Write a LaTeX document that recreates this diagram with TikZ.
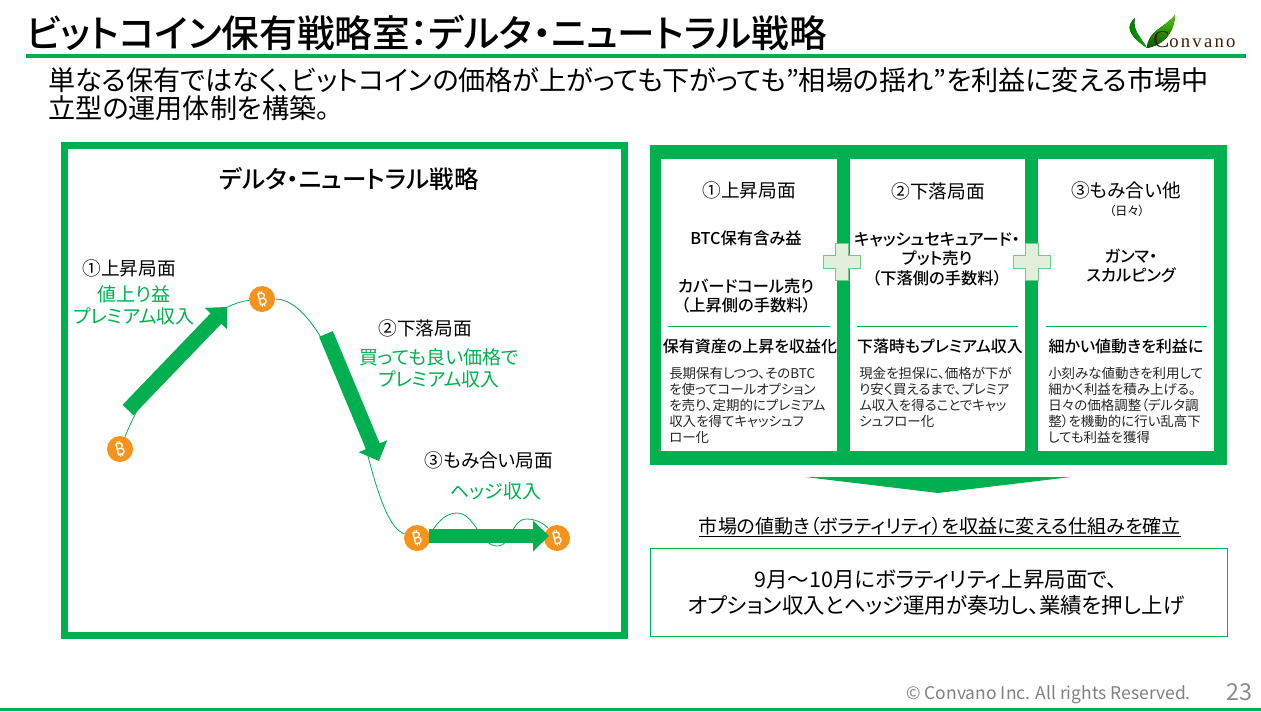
\documentclass[tikz,border=0pt]{standalone}
\usepackage{fontspec}
\setmainfont{Noto Sans CJK JP}[RawFeature={+palt}, BoldFont={Noto Sans CJK JP Medium}]
\newfontfamily\logofont{Liberation Serif}
\newfontfamily\coinfont{Noto Sans}
\usetikzlibrary{arrows.meta, positioning}
\definecolor{cvgreen}{HTML}{00B050}
\definecolor{plusfill}{HTML}{E2EFDA}
\definecolor{plusedge}{HTML}{6CCB8C}
\definecolor{coinorange}{HTML}{F7931A}
\definecolor{bodygray}{HTML}{262626}
\newcommand{\zl}{\char"FF08\relax}
\newcommand{\zr}{\char"FF09\relax}
\newcommand{\zc}{\char"FF1A\relax}
\newcommand{\zw}{\char"FF5E\relax}
\tikzset{
  phase/.style={font=\fontsize{14}{17}\selectfont, align=center},
  gain/.style={font=\fontsize{14.2}{16.5}\selectfont, text=cvgreen, align=center},
  strategy/.style={font=\bfseries\fontsize{12.2}{14.6}\selectfont, align=center},
  headline/.style={font=\bfseries\fontsize{12}{14}\selectfont},
  bodytext/.style={font=\fontsize{10.1}{12}\selectfont, text=bodygray, align=left, anchor=north west, inner sep=0pt},
  coin/.style={circle, fill=coinorange, minimum size=19.5pt, inner sep=0pt, text=white, font=\coinfont\bfseries\fontsize{13}{13}\selectfont},
  blockarrow/.style={cvgreen, line width=11.2pt, -{Triangle[length=12pt,width=22.5pt]}},
  pathline/.style={cvgreen, line width=.6pt},
  rule/.style={cvgreen, line width=.7pt}
}
\newcommand{\plusmark}[2]{
  \draw[fill=plusfill, draw=plusedge, line width=1.2pt] (#1-6.5,#2-18.5) -- (#1+6.5,#2-18.5) -- (#1+6.5,#2-6.5) -- (#1+18.5,#2-6.5) -- (#1+18.5,#2+6.5) -- (#1+6.5,#2+6.5) -- (#1+6.5,#2+18.5) -- (#1-6.5,#2+18.5) -- (#1-6.5,#2+6.5) -- (#1-18.5,#2+6.5) -- (#1-18.5,#2-6.5) -- (#1-6.5,#2-6.5) -- cycle;
}
\begin{document}
\begin{tikzpicture}[x=.75pt, y=-.75pt]
  \useasboundingbox (0,0) rectangle (1261,711);
  % header
  \node[font=\bfseries\fontsize{28.25}{30}\selectfont, anchor=west, inner sep=0pt] (title) at (26,33) {ビットコイン保有戦略室\zc デルタ・ニュートラル戦略};
  \fill[cvgreen] (26,54) rectangle (1246,58);
  \node[font=\fontsize{20.35}{21}\selectfont, align=left, anchor=north west, inner sep=0pt] (lead) at (48,67) {単なる保有ではなく、ビットコインの価格が上がっても下がっても”相場の揺れ”を利益に変える市場中\\立型の運用体制を構築。};
  % logo
  \fill[left color=green!45!black, right color=green!70!black] (1135,18) .. controls (1126,26) and (1127,34) .. (1147,48) .. controls (1140,36) and (1132,30) .. (1135,18);
  \fill[top color=green!60!yellow!80!black, bottom color=green!35!black] (1175,15) .. controls (1165,28) and (1148,30) .. (1147,48) .. controls (1160,46) and (1174,36) .. (1175,15);
  \node[font=\logofont\fontsize{14}{14}\selectfont, text=black!75!orange, anchor=base west, inner sep=0pt] (logo) at (1153,47) {\fontsize{18}{18}\selectfont C\fontsize{14}{14}\selectfont\addfontfeatures{LetterSpace=12}onvano};
  % left panel
  \draw[cvgreen, line width=5pt] (64.5,145.5) rectangle (624.5,635.5);
  \node[font=\bfseries\fontsize{18.4}{21}\selectfont] (leftTitle) at (349,179) {デルタ・ニュートラル戦略};
  \node[coin] (coinA) at (120,449) {\rotatebox{14}{₿}};
  \node[coin] (coinB) at (262,299) {\rotatebox{14}{₿}};
  \node[coin] (coinC) at (417,538) {\rotatebox{14}{₿}};
  \node[coin] (coinD) at (557,538) {\rotatebox{14}{₿}};
  \draw[pathline] (coinA) .. controls (150,375) and (205,305) .. (coinB);
  \draw[pathline] (coinB) .. controls (305,299) and (330,350) .. (350,395) .. controls (365,430) and (378,525) .. (coinC);
  \draw[pathline] (coinC) .. controls (430,535) and (440,513) .. (457,513) .. controls (475,513) and (480,546) .. (497,546) .. controls (513,546) and (510,519) .. (527,519) .. controls (540,519) and (548,528) .. (coinD);
  \coordinate (riseTail) at (128,410);
  \coordinate (riseTip) at (227,307);
  \coordinate (fallTail) at (326,334);
  \coordinate (fallTip) at (379,461);
  \coordinate (flatTail) at (429,536);
  \coordinate (flatTip) at (549,536);
  \draw[blockarrow] (riseTail) -- (riseTip);
  \draw[blockarrow] (fallTail) -- (fallTip);
  \draw[blockarrow] (flatTail) -- (flatTip);
  \node[phase] (riseLabel) at (129,268) {①上昇局面};
  \node[gain] (riseGain) at (134,305) {値上り益\\プレミアム収入};
  \node[phase] (fallLabel) at (425,328) {②下落局面};
  \node[gain] (fallGain) at (439,368) {買っても良い価格で\\プレミアム収入};
  \node[phase] (flatLabel) at (489,460) {③もみ合い局面};
  \node[gain] (flatGain) at (496,491) {ヘッジ収入};
  % right panel
  \fill[cvgreen] (650,145) rectangle (1227,465);
  \fill[white] (661,159) rectangle (837,451);
  \fill[white] (850,159) rectangle (1025,451);
  \fill[white] (1038,159) rectangle (1214,451);
  \plusmark{842}{262}
  \plusmark{1032}{262}
  \draw[rule] (668,326) -- (830,326);
  \draw[rule] (857,326) -- (1018,326);
  \draw[rule] (1046,326) -- (1207,326);
  \node[phase] (colOne) at (749,190) {①上昇局面};
  \node[phase] (colTwo) at (938,191) {②下落局面};
  \node[phase] (colThree) at (1126,190) {③もみ合い他};
  \node[font=\fontsize{9}{11}\selectfont] (colThreeSub) at (1127,211) {\zl 日々\zr};
  \node[strategy] (stratBtc) at (746,238) {BTC保有含み益};
  \node[strategy] (stratCall) at (746,296) {カバードコール売り\\\zl 上昇側の手数料\zr};
  \node[strategy] (stratPut) at (937,259) {キャッシュセキュアード・\\プット売り\\\zl 下落側の手数料\zr};
  \node[strategy] (stratGamma) at (1131,266) {ガンマ・\\スカルピング};
  \node[headline] (headOne) at (750,346) {保有資産の上昇を収益化};
  \node[headline] (headTwo) at (940,346) {下落時もプレミアム収入};
  \node[headline] (headThree) at (1126,346) {細かい値動きを利益に};
  \node[bodytext] (bodyOne) at (669,366.5) {長期保有しつつ、そのBTC\\を使ってコールオプション\\を売り、定期的にプレミアム\\収入を得てキャッシュフ\\ロー化};
  \node[bodytext] (bodyTwo) at (859,366.5) {現金を担保に、価格が下が\\り安く買えるまで、プレミア\\ム収入を得ることでキャッ\\シュフロー化};
  \node[bodytext] (bodyThree) at (1048,366.5) {小刻みな値動きを利用して\\細かく利益を積み上げる。\\日々の価格調整\zl デルタ調\\整\zr を機動的に行い乱高下\\しても利益を獲得};
  % result
  \fill[cvgreen] (805,477) -- (1071,477) -- (938,493) -- cycle;
  \node[font=\fontsize{14.3}{16}\selectfont, inner sep=0pt] (mechanism) at (940,526) {市場の値動き\zl ボラティリティ\zr を収益に変える仕組みを確立};
  \draw[black, line width=.6pt] (699,536) -- (1181,536);
  \draw[cvgreen, line width=.75pt] (650,548) rectangle (1227,636);
  \node[font=\fontsize{16.1}{19.5}\selectfont, align=center] (result) at (936,593) {9月\zw 10月にボラティリティ上昇局面で、\\オプション収入とヘッジ運用が奏功し、業績を押し上げ};
  % footer
  \node[font=\fontsize{13.1}{14}\selectfont, text=black!50, anchor=east, inner sep=0pt] (copyright) at (1191,694.5) {© Convano Inc. All rights Reserved.};
  \node[font=\fontsize{17.5}{18}\selectfont, text=black!45, anchor=east, inner sep=0pt] (pageno) at (1253,692) {23};
  \fill[cvgreen] (0,708) rectangle (1261,711);
\end{tikzpicture}
\end{document}
